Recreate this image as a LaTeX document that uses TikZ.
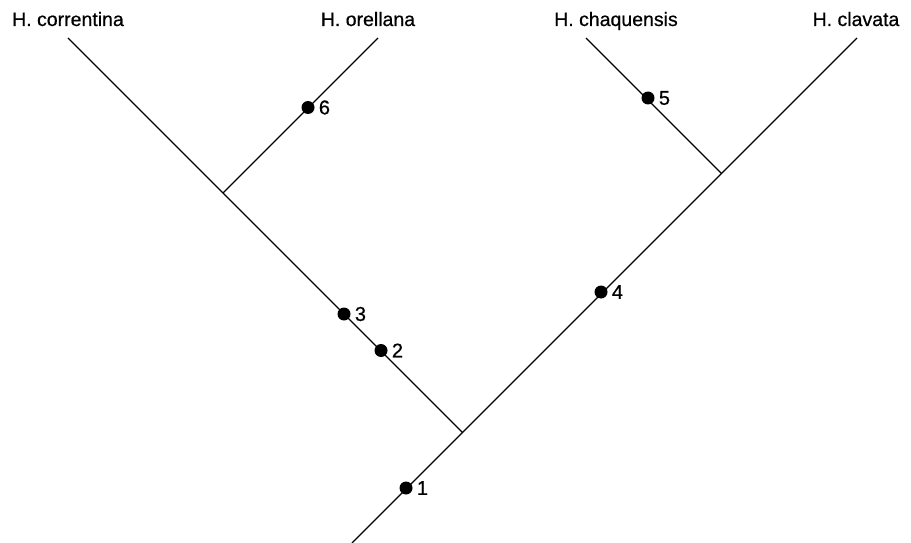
\documentclass[tikz,border=0pt]{standalone}
\usepackage{fontspec}
\setmainfont{Liberation Sans}
\newfontfamily\medfont{Liberation Sans}[FakeBold=0.6]
\begin{document}
\begin{tikzpicture}[x=1pt,y=-1pt,
  branch/.style={line width=1.2pt, black},
  taxon/.style={anchor=base, inner sep=0pt, font=\medfont\fontsize{19.5}{22}\selectfont},
  dotmark/.style={circle, fill=black, inner sep=0pt, minimum size=13pt},
  dotlabel/.style={anchor=west, inner sep=0pt, font=\medfont\fontsize{20}{22}\selectfont}]
\useasboundingbox (0,0) rectangle (911,543);
% tips and internal nodes
\coordinate (root) at (352,543);
\coordinate (nA) at (462.5,432.5);
\coordinate (nB) at (223,193);
\coordinate (nC) at (721.5,173.5);
\coordinate (tCor) at (68,38);
\coordinate (tOre) at (378,38);
\coordinate (tCha) at (586,38);
\coordinate (tCla) at (857,38);
% labels
\node[taxon] (lCor) at (68,26) {H. correntina};
\node[taxon] (lOre) at (368,26) {H. orellana};
\node[taxon] (lCha) at (616,26) {H. chaquensis};
\node[taxon] (lCla) at (856,26) {H. clavata};
% branches
\draw[branch] (root) -- (nA) -- (nC) -- (tCla);
\draw[branch] (nA) -- (nB) -- (tCor);
\draw[branch] (nB) -- (tOre);
\draw[branch] (nC) -- (tCha);
% character marks
\node[dotmark] (d1) at (406,488) {};
\node[dotmark] (d2) at (381,350.5) {};
\node[dotmark] (d3) at (344,314) {};
\node[dotmark] (d4) at (601,292) {};
\node[dotmark] (d5) at (648,98) {};
\node[dotmark] (d6) at (308,107.5) {};
\node[dotlabel] at ([xshift=4pt]d1.east) {1};
\node[dotlabel] at ([xshift=4pt]d2.east) {2};
\node[dotlabel] at ([xshift=4pt]d3.east) {3};
\node[dotlabel] at ([xshift=4pt]d4.east) {4};
\node[dotlabel] at ([xshift=4pt]d5.east) {5};
\node[dotlabel] at ([xshift=4pt]d6.east) {6};
\end{tikzpicture}
\end{document}
